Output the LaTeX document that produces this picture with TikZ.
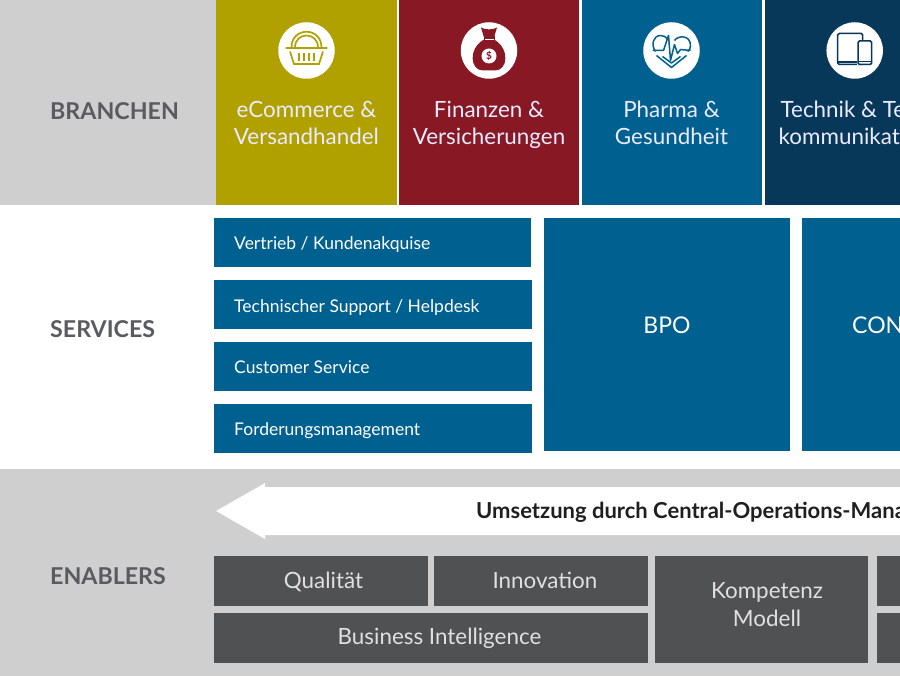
\documentclass[tikz,border=0pt]{standalone}
\usepackage{fontspec}
\setmainfont{Lato}
\definecolor{bandgrey}{HTML}{CFCFCF}
\definecolor{olivetile}{HTML}{B0A000}
\definecolor{redtile}{HTML}{881823}
\definecolor{bluetile}{HTML}{00608F}
\definecolor{darktile}{HTML}{07385A}
\definecolor{slatebox}{HTML}{505153}
\definecolor{headtext}{HTML}{5A5B60}
\tikzset{
  tile/.style={draw=none,minimum height=205pt,anchor=north west,inner sep=0pt},
  svc/.style={fill=bluetile,inner sep=0pt,anchor=north west},
  svctext/.style={text=white,font=\fontsize{17.5}{20}\selectfont,anchor=west,inner sep=0pt},
  bigtext/.style={text=white,font=\fontsize{23}{26}\selectfont,inner sep=0pt},
  en/.style={fill=slatebox,inner sep=0pt,anchor=north west},
  entext/.style={text=white!88!black,font=\fontsize{22.4}{28}\selectfont,align=center,inner sep=0pt},
  head/.style={text=headtext,font=\bfseries\fontsize{23.2}{26}\selectfont,anchor=west,inner sep=0pt},
  tiletext/.style={text=white!92!blue,font=\fontsize{22.4}{26.5}\selectfont,align=center,inner sep=0pt},
  disc/.style={circle,fill=white,minimum size=56.5pt,inner sep=0pt},
}
\begin{document}
\begin{tikzpicture}[x=1pt,y=-1pt]
\useasboundingbox (0,0) rectangle (900,676);
\clip (0,0) rectangle (900,676);
% bands
\fill[bandgrey] (0,0) rectangle (216,205);
\fill[bandgrey] (0,469) rectangle (900,676);
\node[head] (hb) at (50,111.5) {BRANCHEN};
\node[head] (hs) at (50,329) {SERVICES};
\node[head] (he) at (50,576) {ENABLERS};
% industry tiles
\node[tile,fill=olivetile,minimum width=181pt] (t1) at (216,0) {};
\node[tile,fill=redtile,minimum width=180pt] (t2) at (399,0) {};
\node[tile,fill=bluetile,minimum width=180pt] (t3) at (582,0) {};
\node[tile,fill=darktile,minimum width=135pt] (t4) at (765,0) {};
\node[tiletext] (l1) at (306.5,125.5) {\strut eCommerce \&\\\strut Versandhandel};
\node[tiletext] (l2) at (489,125.5) {\strut Finanzen \&\\\strut Versicherungen};
\node[tiletext] (l3) at (671.5,125.5) {\strut Pharma \&\\\strut Gesundheit};
\node[tiletext,anchor=west,align=left] (l4) at (778.5,125.5) {\strut\hspace*{2pt}Technik \& Te\\\strut kommunikat};
\node[disc] (d1) at (306.5,50.5) {};
\node[disc] (d2) at (489,50.5) {};
\node[disc] (d3) at (671.5,50.5) {};
\node[disc] (d4) at (854.7,50.5) {};
% basket
\begin{scope}[shift={(306.5,50.5)},draw=olivetile,line width=1.7pt]
  \draw (-15,-3) .. controls (-15,-24) and (15,-24) .. (15,-3);
  \draw (-11.5,-3) .. controls (-11.5,-19) and (11.5,-19) .. (11.5,-3);
  \draw[line width=2.6pt,line cap=round] (-20,-2.5) -- (20,-2.5);
  \draw (-16.5,1) -- (-12.5,13.5) -- (12.5,13.5) -- (16.5,1);
  \foreach \q in {-7.5,-2.5,2.5,7.5} \draw[line width=2pt] (\q,3) -- (\q,11);
\end{scope}
% money bag
\begin{scope}[shift={(489,50.5)}]
  \fill[redtile] (-5,-11) .. controls (-21,-2) and (-19,20) .. (-6,20) -- (6,20) .. controls (19,20) and (21,-2) .. (5,-11) -- cycle;
  \fill[redtile] (-5,-13) -- (-8,-23) .. controls (-4,-20.5) and (4,-20.5) .. (8,-23) -- (5,-13) -- cycle;
  \fill[redtile] (-5.5,-14) rectangle (5.5,-10);
  \fill[white] (-4.5,-11.6) rectangle (4.5,-10.6);
  \fill[white] (0,5.5) circle (7.5);
  \node[text=redtile,font=\bfseries\fontsize{10}{10}\selectfont,inner sep=0pt] (dollar) at (0,5.5) {\$};
\end{scope}
% heart
\begin{scope}[shift={(671.5,50.5)},draw=bluetile,line width=1.5pt,line join=round]
  \draw (-16,1) .. controls (-21,-6) and (-18,-15) .. (-11,-15) .. controls (-8,-15) and (-6,-14) .. (-4,-11);
  \draw (3,-10) .. controls (6,-15) and (19,-16) .. (19,-5) .. controls (19,-2) and (18,0) .. (16,1);
  \draw (-19,0) -- (-8,0) -- (-3,-15) -- (-1,10) -- (3,-6) -- (6,3) -- (9,-1) -- (19,0);
  \draw (-15,5) -- (0,17) -- (15,5);
  \draw (-9,6) -- (0,12.5) -- (9,6);
\end{scope}
% devices
\begin{scope}[shift={(854.7,50.5)},draw=darktile,line width=1.5pt]
  \draw[rounded corners=1.5pt] (-17,-17) rectangle (8,14);
  \fill[white] (2,-10.5) rectangle (17.8,15);
  \draw[rounded corners=1.5pt] (3.3,-9.5) rectangle (17,14);
  \draw[line width=2.2pt] (-17,11.5) -- (2,11.5);
  \draw[line width=1.6pt] (3.3,11) -- (17,11);
\end{scope}
% services
\node[svc,minimum width=317pt,minimum height=49pt] (s1) at (214,218) {};
\node[svc,minimum width=318pt,minimum height=49pt] (s2) at (214,280) {};
\node[svc,minimum width=318pt,minimum height=49pt] (s3) at (214,342) {};
\node[svc,minimum width=318pt,minimum height=49pt] (s4) at (214,404) {};
\node[svctext] (st1) at (234,244.5) {Vertrieb / Kundenakquise};
\node[svctext] (st2) at (234,307.5) {Technischer Support / Helpdesk};
\node[svctext] (st3) at (234,367.5) {Customer Service};
\node[svctext] (st4) at (234,431) {Forderungsmanagement};
\node[svc,minimum width=246pt,minimum height=233pt] (bpo) at (544,218) {};
\node[svc,minimum width=98pt,minimum height=233pt] (con) at (802,218) {};
\node[bigtext] (bpot) at (667,325.5) {BPO};
\node[bigtext,anchor=west] (cont) at (852,325.5) {CON};
% arrow
\fill[white] (216,511) -- (265,483) -- (265,487) -- (900,487) -- (900,535) -- (265,535) -- (265,539) -- cycle;
\node[text=black!88,font=\bfseries\fontsize{22}{26}\selectfont,anchor=west,inner sep=0pt] (um) at (476,512.5) {Umsetzung durch Central-Operations-Mana};
% enablers
\node[en,minimum width=214pt,minimum height=50pt] (e1) at (214,556) {};
\node[en,minimum width=214pt,minimum height=50pt] (e2) at (434,556) {};
\node[en,minimum width=434pt,minimum height=50pt] (e3) at (214,613) {};
\node[en,minimum width=213pt,minimum height=107pt] (e4) at (655,556) {};
\node[en,minimum width=23pt,minimum height=50pt] (e5) at (877,556) {};
\node[en,minimum width=23pt,minimum height=50pt] (e6) at (877,613) {};
\node[entext] (et1) at (323.5,581.5) {Qualität};
\node[entext] (et2) at (545,580) {Innovation};
\node[entext] (et3) at (439.5,638.5) {Business Intelligence};
\node[entext] (et4) at (767,604.5) {Kompetenz\\Modell};
\end{tikzpicture}
\end{document}
